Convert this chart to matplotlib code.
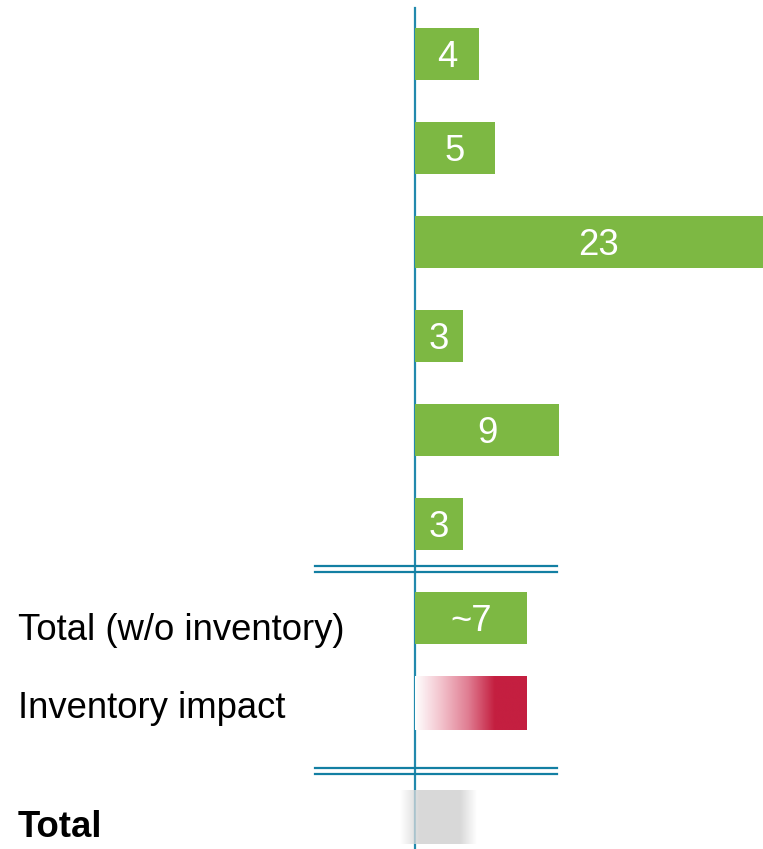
import numpy as np
import matplotlib.pyplot as plt
from matplotlib.colors import LinearSegmentedColormap

plt.rcParams['font.family'] = ['Liberation Sans', 'DejaVu Sans']

# chart data
bar_values = [4, 5, 23, 3, 9, 3, 7]
bar_labels = ['4', '5', '23', '3', '9', '3', '~7']
row_labels = ['', '', '', '', '', '', 'Total (w/o inventory)']
inventory_value = 7
total_label = 'Total'
inventory_label = 'Inventory impact'

# layout (pixels, y from top)
W, H = 763, 849
x0 = 415          # pixel of zero
ppu = 16          # pixels per unit
bar_h = 52
bar_y = [54 + 94 * i for i in range(len(bar_values))]
inv_y = 703
total_y = 817.5

green = '#7db843'
red = '#c41f40'
axis_col = '#2289ad'
line_col = '#137fa3'
fs = 26.3

fig = plt.figure(figsize=(W / 100, H / 100), dpi=100)
ax = fig.add_axes([0, 0, 1, 1])
ax.set_xlim(-x0 / ppu, (W - x0) / ppu)
ax.set_ylim(H, 0)
ax.axis('off')

# vertical axis
ax.plot([0, 0], [8, H], color=axis_col, lw=1.6, zorder=1)

# green bars
ax.barh(bar_y, bar_values, height=bar_h, color=green, zorder=2)
for y, v, lab in zip(bar_y, bar_values, bar_labels):
    ax.text(v / 2, y + 13, lab, color='white', fontsize=fs,
            ha='center', va='baseline', zorder=3)

# left labels
lx = (18 - x0) / ppu
ax.text(lx, 640, row_labels[-1], fontsize=fs, va='baseline')
ax.text(lx, 718, inventory_label, fontsize=fs, va='baseline')
ax.text(lx, 837, total_label, fontsize=fs, va='baseline', fontweight='bold')

# inventory gradient bar: white -> red then solid
ramp_end = 5.0 / inventory_value
xs = np.linspace(0, 1, 400)
alpha = np.clip(xs / ramp_end, 0, 1)
cmap = LinearSegmentedColormap.from_list('inv', ['#ffffff', '#f2c1cb', '#e07d92', red])
img = cmap(alpha)[None, :, :]
ax.imshow(img, extent=[0, inventory_value, inv_y + 27, inv_y - 27],
          aspect='auto', interpolation='bilinear', zorder=2)

# total: grey blurred block
gx = np.linspace(0, 1, 400)
ga = np.clip(np.minimum(gx / 0.25, (1 - gx) / 0.22), 0, 1)
grey = np.ones((1, 400, 4))
grey[..., :3] = 0.85
grey[..., 3] = ga
ax.imshow(grey, extent=[(400 - x0) / ppu, (477 - x0) / ppu, total_y + 27, total_y - 27],
          aspect='auto', interpolation='bilinear', zorder=2)

# double separator lines
sx0, sx1 = (315 - x0) / ppu, (557 - x0) / ppu
for yy in (566, 572, 768, 774):
    ax.plot([sx0, sx1], [yy, yy], color=line_col, lw=1.6, zorder=1)

fig.savefig('out.png', dpi=100)
